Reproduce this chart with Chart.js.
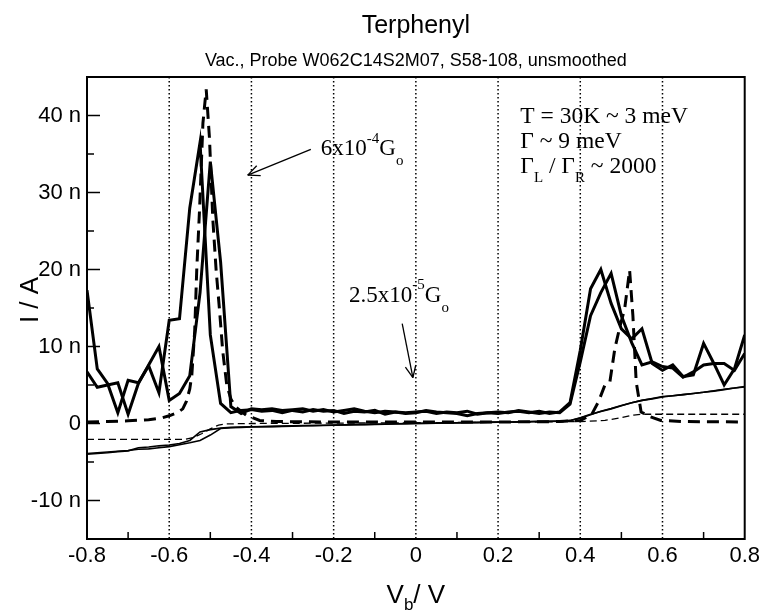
<!DOCTYPE html>
<html>
<head>
<meta charset="utf-8">
<title>Terphenyl</title>
<script src="https://cdn.jsdelivr.net/npm/chart.js@4.4.1/dist/chart.umd.min.js"></script>
<style>
  html, body { margin: 0; padding: 0; background: #fff; }
  #wrap { position: relative; width: 764px; height: 613px; }
</style>
</head>
<body>
<div id="wrap"><canvas id="iv"></canvas></div>
<script>
// bias grid of the measured sweeps (V)
const biasV = [-0.8, -0.775, -0.75, -0.725, -0.7, -0.675, -0.65, -0.625, -0.6, -0.575, -0.55, -0.525, -0.5,
    -0.475, -0.45, -0.425, -0.4, -0.375, -0.35, -0.325, -0.3, -0.275, -0.25, -0.225, -0.2, -0.175, -0.15,
    -0.125, -0.1, -0.075, -0.05, -0.025, 0, 0.025, 0.05, 0.075, 0.1, 0.125, 0.15, 0.175, 0.2, 0.225, 0.25,
    0.275, 0.3, 0.325, 0.35, 0.375, 0.4, 0.425, 0.45, 0.475, 0.5, 0.525, 0.55, 0.575, 0.6, 0.625, 0.65,
    0.675, 0.7, 0.725, 0.75, 0.775, 0.8];

// thick solid traces, two sweeps (nA)
const sweepUp = [17.3, 7.1, 5.2, 1.4, 5.6, 5.3, 7.5, 4.0, 13.4, 13.6, 28.0, 36.5, 11.5, 2.6, 1.4,
    1.7, 1.8, 1.6, 1.7, 1.4, 1.7, 1.5, 1.8, 1.6, 1.7, 1.3, 1.6, 1.5, 1.7, 1.2, 1.5, 1.4, 1.5, 1.6, 1.3,
    1.5, 1.4, 1.6, 1.2, 1.4, 1.3, 1.5, 1.6, 1.4, 1.6, 1.3, 1.5,
    2.7, 9.5, 17.5, 20.0, 15.6, 12.3, 11.0, 12.3, 7.8, 6.9, 7.6, 6.1, 6.3, 10.4, 7.8, 5.0, 7.1, 11.5];
const sweepDown = [6.7, 4.7, 5.0, 5.3, 1.2, 5.2, 7.6, 10.0, 3.0, 3.9, 6.2, 17.0, 34.0, 21.0, 2.2,
    1.3, 1.9, 1.8, 1.9, 1.7, 1.8, 1.9, 1.6, 1.8, 1.5, 1.7, 1.9, 1.6, 1.4, 1.6, 1.5, 1.3, 1.4, 1.7, 1.5,
    1.4, 1.3, 1.0, 1.3, 1.4, 1.5, 1.4, 1.7, 1.5, 1.3, 1.5, 1.4,
    2.5, 8.0, 14.0, 17.0, 19.5, 14.0, 10.5, 7.6, 8.0, 7.4, 7.2, 6.0, 6.7, 7.6, 7.8, 7.8, 6.9, 9.1];

// thin solid: measured I-V, two sweeps (nA)
const ivUp = [-3.9, -3.8, -3.7, -3.6, -3.5, -3.35, -3.3, -3.15, -3.0, -2.75, -2.5, -2.2, -1.5, -0.65, -0.55,
    -0.5, -0.45, -0.42, -0.4, -0.37, -0.34, -0.3, -0.28, -0.25, -0.22, -0.2, -0.17, -0.14, -0.12, -0.09,
    -0.06, -0.03, 0, 0.02, 0.04, 0.06, 0.08, 0.1, 0.12, 0.14, 0.16, 0.18, 0.2, 0.22, 0.25, 0.28, 0.3,
    0.4, 0.75, 1.2, 1.55, 1.9, 2.3, 2.7, 3.0, 3.25, 3.5, 3.6, 3.75, 3.9, 4.05, 4.25, 4.45, 4.6, 4.8];
const ivDown = [-4.0, -3.9, -3.8, -3.65, -3.55, -3.15, -3.05, -2.9, -2.8, -2.6, -2.2, -1.1, -0.8, -0.6, -0.5,
    -0.46, -0.42, -0.4, -0.37, -0.34, -0.31, -0.28, -0.26, -0.23, -0.2, -0.18, -0.15, -0.12, -0.1, -0.07,
    -0.04, -0.01, 0.02, 0.04, 0.06, 0.08, 0.1, 0.12, 0.14, 0.16, 0.18, 0.2, 0.22, 0.24, 0.27, 0.3, 0.32,
    0.35, 0.7, 1.15, 1.6, 1.95, 2.35, 2.7, 3.0, 3.2, 3.45, 3.6, 3.75, 3.9, 4.05, 4.2, 4.4, 4.6, 4.75];

// thick dashed: model peaks
const modelV = [-0.8, -0.75, -0.7, -0.65, -0.62, -0.6, -0.58, -0.567, -0.558, -0.55, -0.545, -0.538, -0.533,
    -0.526, -0.518, -0.51, -0.502, -0.494, -0.486, -0.478, -0.47, -0.46, -0.45, -0.44, -0.413, -0.38, -0.34,
    -0.2, 0, 0.2, 0.35, 0.4, 0.427, 0.444, 0.46, 0.472, 0.484, 0.496, 0.508, 0.52, 0.528, 0.536, 0.548,
    0.569, 0.596, 0.65, 0.8];
const modelI = [0.2, 0.25, 0.35, 0.5, 0.7, 1.0, 1.4, 1.9, 2.9, 4.5, 6.3, 12, 20, 28, 39, 43.4, 37, 26.6, 20,
    15, 9.5, 5, 3.2, 2.2, 1.1, 0.4, 0.25, 0.2, 0.2, 0.2, 0.25, 0.4, 1.1, 2.8, 5.0, 5.4, 9.7, 12.5, 14.9,
    19.9, 14, 5.4, 1.5, 0.9, 0.4, 0.25, 0.2];

// thin dashed: model I-V
const modelIvV = [-0.8, -0.56, -0.54, -0.52, -0.5, -0.48, -0.46, -0.4, 0, 0.3, 0.4, 0.46, 0.5, 0.53, 0.55, 0.8];
const modelIvI = [-2.05, -2.05, -1.8, -1.3, -0.7, -0.2, -0.05, 0, 0.1, 0.2, 0.25, 0.4, 0.75, 1.1, 1.2, 1.2];

const xTicks = [-0.8, -0.6, -0.4, -0.2, 0, 0.2, 0.4, 0.6, 0.8];
const xMinor = [-0.7, -0.5, -0.3, -0.1, 0.1, 0.3, 0.5, 0.7];
const yTicks = [-10, 0, 10, 20, 30, 40];
const yMinor = [-5, 5, 15, 25, 35];
const gridV = [-0.6, -0.4, -0.2, 0, 0.2, 0.4, 0.6];

// annotation anchors in data units (V, nA)
const arrowWide = [[-0.2555, 35.6], [-0.409, 32.25]];
const arrowNarrow = [[-0.0332, 12.98], [-0.0072, 5.95]];
const noteWide = [-0.2312, 34.84];
const noteNarrow = [-0.1625, 15.78];
const paramsAt = [0.2541, 39.07, 35.83, 32.51];

const SANS = '"Liberation Sans", Arial, Helvetica, sans-serif';
const SERIF = '"Liberation Serif", "Times New Roman", serif';

const pts = (xs, ys) => xs.map((x, i) => ({ x, y: ys[i] }));
const trace = (label, xs, ys, width, dash) => ({
    label, data: pts(xs, ys), borderColor: '#000', borderWidth: width, borderDash: dash || [],
    pointRadius: 0, tension: 0, fill: false,
});

function rich(ctx, x, y, parts) {
    let cx = x;
    for (const [text, size, dy, fam] of parts) {
        ctx.font = `${size}px ${fam || SERIF}`;
        ctx.fillText(text, cx, y + dy);
        cx += ctx.measureText(text).width;
    }
    return cx - x;
}

function seg(ctx, x1, y1, x2, y2) {
    ctx.beginPath(); ctx.moveTo(x1, y1); ctx.lineTo(x2, y2); ctx.stroke();
}

function arrow(ctx, x1, y1, x2, y2) {
    const ang = Math.atan2(y2 - y1, x2 - x1), L = 13, w = 0.42;
    seg(ctx, x1, y1, x2, y2);
    seg(ctx, x2, y2, x2 - L * Math.cos(ang - w), y2 - L * Math.sin(ang - w));
    seg(ctx, x2, y2, x2 - L * Math.cos(ang + w), y2 - L * Math.sin(ang + w));
}

const decor = {
    id: 'decor',
    beforeDatasetsDraw(chart) {
        const { ctx, chartArea: a, scales: { x } } = chart;
        ctx.save();
        ctx.strokeStyle = '#000'; ctx.lineWidth = 1.5; ctx.setLineDash([1.5, 2.5]);
        gridV.forEach((v) => { const px = x.getPixelForValue(v); seg(ctx, px, a.top, px, a.bottom); });
        ctx.restore();
    },
    afterDraw(chart) {
        const { ctx, chartArea: a, scales: { x, y } } = chart;
        ctx.save();
        ctx.strokeStyle = '#000'; ctx.fillStyle = '#000';
        ctx.lineWidth = 2;
        ctx.strokeRect(a.left, a.top, a.right - a.left, a.bottom - a.top);
        ctx.lineWidth = 1.5;
        yTicks.forEach((v) => { const py = y.getPixelForValue(v); seg(ctx, a.left, py, a.left + 13, py); });
        yMinor.forEach((v) => { const py = y.getPixelForValue(v); seg(ctx, a.left, py, a.left + 7, py); });
        xMinor.forEach((v) => { const px = x.getPixelForValue(v); seg(ctx, px, a.bottom, px, a.bottom - 7); });

        // titles
        const cx = (a.left + a.right) / 2;
        ctx.textAlign = 'center'; ctx.textBaseline = 'alphabetic';
        ctx.font = `25px ${SANS}`; ctx.fillText('Terphenyl', cx, 33);
        ctx.font = `18px ${SANS}`; ctx.fillText('Vac., Probe W062C14S2M07, S58-108, unsmoothed', cx, 66);

        // axis titles
        ctx.textAlign = 'left';
        const xParts = [['V', 26, 0, SANS], ['b', 17, 7, SANS], ['/ V', 26, 0, SANS]];
        let tw = 0;
        xParts.forEach(([t, s, , f]) => { ctx.font = `${s}px ${f}`; tw += ctx.measureText(t).width; });
        rich(ctx, cx - tw / 2, 603, xParts);
        ctx.save();
        ctx.translate(31, 300); ctx.rotate(-Math.PI / 2);
        ctx.textAlign = 'center'; ctx.textBaseline = 'middle';
        ctx.font = `26px ${SANS}`; ctx.fillText('I / A', 0, 0);
        ctx.restore();

        // annotations
        ctx.lineWidth = 1.3;
        const P = (p) => [x.getPixelForValue(p[0]), y.getPixelForValue(p[1])];
        let f = P(arrowWide[0]), t = P(arrowWide[1]);
        arrow(ctx, f[0], f[1], t[0], t[1]);
        f = P(arrowNarrow[0]); t = P(arrowNarrow[1]);
        arrow(ctx, f[0], f[1], t[0], t[1]);
        let p = P(noteWide);
        rich(ctx, p[0], p[1], [['6x10', 23, 0], ['-4', 15, -12.5], ['G', 23, 0], ['o', 15, 10]]);
        p = P(noteNarrow);
        rich(ctx, p[0], p[1], [['2.5x10', 23, 0], ['-5', 15, -12.5], ['G', 23, 0], ['o', 15, 10]]);
        const px = x.getPixelForValue(paramsAt[0]);
        rich(ctx, px, y.getPixelForValue(paramsAt[1]), [['T = 30K ~ 3 meV', 23.5, 0]]);
        rich(ctx, px, y.getPixelForValue(paramsAt[2]), [['Γ ~ 9 meV', 23.5, 0]]);
        rich(ctx, px, y.getPixelForValue(paramsAt[3]),
            [['Γ', 23.5, 0], ['L', 15, 8.7], [' / Γ', 23.5, 0], ['R', 15, 8.7], [' ~ 2000', 23.5, 0]]);
        ctx.restore();
    },
};

new Chart(document.getElementById('iv'), {
    type: 'line',
    data: {
        datasets: [
            trace('sweep up', biasV, sweepUp, 3),
            trace('sweep down', biasV, sweepDown, 3),
            trace('model', modelV, modelI, 3, [12, 7]),
            trace('I-V up', biasV, ivUp, 1.6),
            trace('I-V down', biasV, ivDown, 1.6),
            trace('model I-V', modelIvV, modelIvI, 1.3, [7, 4]),
        ],
    },
    options: {
        responsive: true,
        maintainAspectRatio: false,
        animation: false,
        layout: { padding: { top: 77, right: 17, left: 0, bottom: 0 } },
        plugins: { legend: { display: false }, tooltip: { enabled: false } },
        scales: {
            x: {
                type: 'linear', min: -0.8, max: 0.8,
                afterBuildTicks: (s) => { s.ticks = xTicks.map((v) => ({ value: v })); },
                afterFit: (s) => { s.height = 74; },
                grid: { display: false, drawTicks: false },
                border: { display: false },
                ticks: {
                    padding: 4, color: '#000', maxRotation: 0, autoSkip: false,
                    font: { family: SANS, size: 22 },
                    callback: (v) => (v === 0 ? '0' : Number(v).toFixed(1)),
                },
            },
            y: {
                type: 'linear', min: -15, max: 45,
                afterBuildTicks: (s) => { s.ticks = yTicks.map((v) => ({ value: v })); },
                afterFit: (s) => { s.width = 87; },
                grid: { display: false, drawTicks: false },
                border: { display: false },
                ticks: {
                    padding: 6, color: '#000', autoSkip: false,
                    font: { family: SANS, size: 22 },
                    callback: (v) => (v === 0 ? '0' : v + ' n'),
                },
            },
        },
    },
    plugins: [decor],
});
</script>
</body>
</html>
